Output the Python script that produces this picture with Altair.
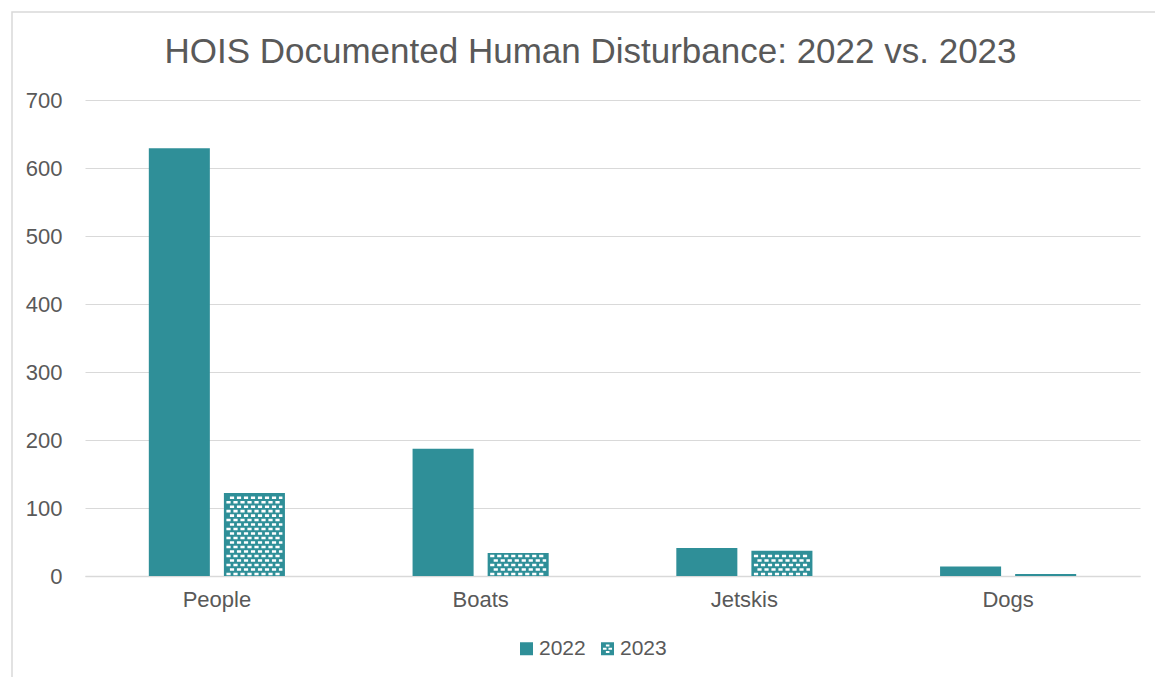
import altair as alt
import pandas as pd

categories = ["People", "Boats", "Jetskis", "Dogs"]
years = ["2022", "2023"]
values_2022 = [629, 187, 41, 14]
values_2023 = [122, 34, 37, 3]

rows = []
for c, v in zip(categories, values_2022):
    rows.append({"category": c, "year": "2022", "value": v})
for c, v in zip(categories, values_2023):
    rows.append({"category": c, "year": "2023", "value": v})
df = pd.DataFrame(rows)

TEAL = "#2F8F98"
GRID = "#D9D9D9"
TXT = "#595959"
FONT = "Liberation Sans"

x_enc = alt.X("category:N", sort=categories, title=None,
              scale=alt.Scale(paddingInner=0, paddingOuter=0),
              axis=alt.Axis(labelAngle=0, ticks=False, domain=True, domainColor=GRID,
                            domainWidth=1.5, labelFontSize=22, labelColor=TXT,
                            labelPadding=13, labelFont=FONT))
xoff_enc = alt.XOffset("year:N", sort=years,
                       scale=alt.Scale(domain=years, paddingInner=0.187, paddingOuter=0.85))
y_scale = alt.Scale(domain=[0, 700])
y_enc = alt.Y("value:Q", scale=y_scale, title=None,
              axis=alt.Axis(values=[0, 100, 200, 300, 400, 500, 600, 700], ticks=False,
                            domain=False, gridColor=GRID, gridWidth=1, labelFontSize=22,
                            labelColor=TXT, labelPadding=23, labelFont=FONT))

base = alt.Chart(df)

bars = base.mark_bar(color=TEAL).encode(x=x_enc, xOffset=xoff_enc, y=y_enc)

# pattern of white dashes on the 2023 bars (rows derived from the data)
def dash_row(offset):
    parts = []
    period = 0.25
    w = 0.15
    h = 0.045
    k = -1 + offset
    while k < 1 - 0.05:
        x0 = max(k, -1)
        x1 = min(k + w, 1)
        if x1 > x0:
            parts.append(f"M{x0:.3f},{-h:.3f}H{x1:.3f}V{h:.3f}H{x0:.3f}Z")
        k += period
    return "".join(parts)

pathA = dash_row(0.0)
pathB = dash_row(0.125)

STEP = 6.6
pat_base = base.transform_filter("datum.year == '2023'").transform_calculate(
    rows=f"sequence(3, datum.value - 1.5, {STEP})"
).transform_flatten(["rows"]).transform_calculate(
    parity=f"floor((datum.rows - 3) / {STEP} + 0.5) % 2"
)

patA = pat_base.transform_filter("datum.parity == 0").mark_point(
    shape=pathA, filled=True, fill="white", strokeWidth=0, opacity=1, size=56 * 56
).encode(x=x_enc, xOffset=xoff_enc, y=alt.Y("rows:Q", scale=y_scale))
patB = pat_base.transform_filter("datum.parity == 1").mark_point(
    shape=pathB, filled=True, fill="white", strokeWidth=0, opacity=1, size=56 * 56
).encode(x=x_enc, xOffset=xoff_enc, y=alt.Y("rows:Q", scale=y_scale))

holed = ("M-1,-1H1V1H-1Z"
         "M-0.25,-0.65V-0.35H0.3V-0.65Z"
         "M-0.7,-0.15V0.15H-0.15V-0.15Z"
         "M0.15,-0.15V0.15H0.7V-0.15Z"
         "M-0.25,0.35V0.65H0.3V0.35Z")

leg = alt.Legend(title=None, orient="none", legendX=431, legendY=538,
                 direction="horizontal", labelFontSize=21, labelColor=TXT,
                 labelFont=FONT, symbolSize=169, labelOffset=2,
                 columnPadding=11, symbolStrokeWidth=0)

legend_layer = base.transform_filter("false").mark_point(filled=True, opacity=1, strokeWidth=0).encode(
    x=x_enc, xOffset=xoff_enc, y=y_enc,
    color=alt.Color("year:N", scale=alt.Scale(domain=years, range=[TEAL, TEAL]), legend=leg),
    shape=alt.Shape("year:N", scale=alt.Scale(domain=years, range=["square", holed]), legend=leg),
)

border = alt.Chart(pd.DataFrame({"a": [0]})).mark_rect(
    fill=None, stroke=GRID, strokeWidth=1.5
).encode(x=alt.value(-73), x2=alt.value(1090), y=alt.value(-88), y2=alt.value(600))

chart = alt.layer(border, bars, patA, patB, legend_layer).properties(
    width=1055, height=476,
    background="white",
    title=alt.TitleParams("HOIS Documented Human Disturbance: 2022 vs. 2023",
                          fontSize=35, color=TXT, font=FONT, fontWeight="normal",
                          anchor="middle", dx=-22, offset=-87, baseline="alphabetic"),
    autosize=alt.AutoSizeParams(type="none"),
    padding={"left": 85, "top": 100, "right": 15, "bottom": 101},
).configure_view(stroke=None)

chart.save("out.html", embed_options={"renderer": "svg", "actions": False})
